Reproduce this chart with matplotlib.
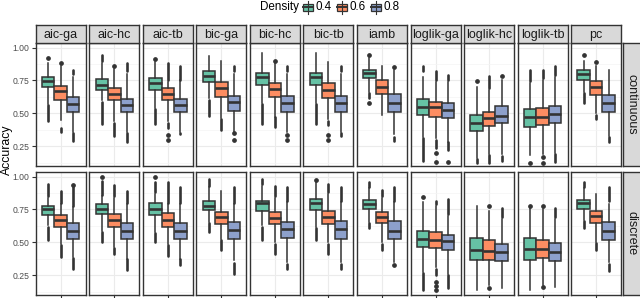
import matplotlib
matplotlib.use("Agg")
import matplotlib.pyplot as plt
from matplotlib.patches import Rectangle

plt.rcParams['font.family'] = ['Liberation Sans', 'DejaVu Sans']

methods = ["aic-ga", "aic-hc", "aic-tb", "bic-ga", "bic-hc", "bic-tb", "iamb",
           "loglik-ga", "loglik-hc", "loglik-tb", "pc"]
densities = ["0.4", "0.6", "0.8"]
rows = ["continuous", "discrete"]
colors = ["#66C2A5", "#FC8D62", "#8DA0CB"]

# five-number summaries per row -> per method -> [0.4, 0.6, 0.8]
whislo = {
    "continuous": [[.57, .45, .36], [.60, .44, .36], [.54, .445, .36], [.616, .463, .36],
                   [.578, .476, .36], [.578, .46, .36], [.66, .49, .34], [.323, .31, .285],
                   [.16, .19, .19], [.18, .19, .20], [.66, .50, .33]],
    "discrete": [[.63, .49, .39], [.59, .465, .376], [.578, .49, .376], [.654, .528, .364],
                 [.63, .50, .35], [.616, .50, .35], [.654, .50, .35], [.275, .313, .263],
                 [.136, .175, .157], [.136, .174, .16], [.667, .50, .35]],
}
q1 = {
    "continuous": [[.70, .605, .51], [.68, .598, .509], [.674, .598, .509], [.735, .623, .52],
                   [.718, .623, .514], [.718, .616, .514], [.766, .646, .509], [.489, .47, .463],
                   [.366, .405, .425], [.40, .41, .425], [.756, .64, .509]],
    "discrete": [[.71, .62, .528], [.712, .62, .528], [.71, .62, .528], [.747, .641, .528],
                 [.737, .641, .533], [.747, .641, .528], [.755, .646, .528], [.465, .46, .444],
                 [.364, .369, .356], [.369, .384, .356], [.755, .646, .52]],
}
med = {
    "continuous": [[.745, .67, .575], [.717, .646, .562], [.73, .646, .567], [.786, .69, .588],
                   [.78, .684, .578], [.776, .68, .578], [.81, .70, .58], [.552, .547, .527],
                   [.43, .463, .48], [.47, .476, .496], [.80, .70, .58]],
    "discrete": [[.755, .672, .583], [.755, .667, .59], [.755, .667, .583], [.78, .692, .596],
                 [.80, .684, .604], [.80, .692, .604], [.793, .692, .59], [.528, .52, .51],
                 [.44, .432, .427], [.447, .447, .427], [.798, .697, .583]],
}
q3 = {
    "continuous": [[.78, .71, .625], [.76, .69, .613], [.766, .69, .613], [.824, .74, .634],
                   [.81, .73, .634], [.81, .73, .634], [.83, .756, .646], [.608, .588, .578],
                   [.489, .514, .557], [.532, .54, .557], [.827, .743, .64]],
    "discrete": [[.78, .71, .646], [.79, .717, .646], [.80, .722, .646], [.818, .73, .654],
                 [.813, .73, .654], [.83, .742, .66], [.823, .73, .66], [.59, .578, .553],
                 [.535, .515, .49], [.535, .52, .495], [.823, .742, .654]],
}
whishi = {
    "continuous": [[.88, .86, .78], [.88, .84, .80], [.89, .74, .75], [.934, .896, .80],
                   [.96, .88, .80], [.96, .89, .80], [.92, .86, .83], [.78, .74, .74],
                   [.70, .68, .756], [.73, .75, .78], [.90, .86, .83]],
    "discrete": [[.84, .79, .77], [.85, .84, .79], [.87, .79, .79], [.92, .894, .79],
                 [.93, .84, .81], [.96, .87, .81], [.91, .84, .81], [.806, .78, .70],
                 [.78, .742, .68], [.76, .75, .68], [.91, .87, .79]],
}
# outlier runs (min, max) below / above the whiskers
low_out = {
    "continuous": [
        [[(.44, .56)], [(.36, .39)], [(.29, .35)]],
        [[(.42, .59)], [(.33, .43)], [(.285, .35)]],
        [[(.42, .53)], [(.39, .43), (.336, .336), (.298, .298)], [(.34, .35)]],
        [[(.48, .60)], [(.374, .455)], [(.35, .35), (.30, .30)]],
        [[(.42, .57)], [(.394, .47)], [(.336, .336), (.298, .298)]],
        [[(.42, .57)], [(.41, .44), (.336, .336), (.298, .298)], [(.33, .35)]],
        [[(.616, .654), (.58, .58)], [], [(.29, .32)]],
        [[(.14, .31)], [(.24, .30), (.196, .196), (.132, .132)], [(.22, .28), (.132, .132)]],
        [[(.12, .15)], [(.12, .18)], [(.14, .175)]],
        [[(.124, .124)], [(.17, .17), (.12, .12)], [(.13, .19)]],
        [[(.577, .654)], [(.46, .49)], [(.285, .32)]],
    ],
    "discrete": [
        [[(.52, .62)], [(.39, .48)], [(.30, .38)]],
        [[(.50, .58)], [(.414, .455)], [(.288, .37)]],
        [[(.50, .57)], [(.394, .477)], [(.326, .37)]],
        [[(.578, .645)], [(.44, .52)], [(.258, .343)]],
        [[(.52, .62)], [(.414, .49)], [(.30, .338)]],
        [[(.52, .61)], [(.414, .49)], [(.30, .338)]],
        [[(.61, .645)], [(.44, .49)], [(.33, .33)]],
        [[(.136, .265)], [(.25, .30), (.20, .20), (.17, .17), (.136, .136)], [(.15, .255)]],
        [[], [(.157, .157)], []],
        [[], [(.16, .16)], []],
        [[(.61, .66)], [(.44, .495)], [(.283, .338)]],
    ],
}
high_out = {
    "continuous": [
        [[(.92, .92)], [(.88, .88)], [(.80, .83)]],
        [[(.90, .94)], [(.857, .857)], [(.82, .88)]],
        [[(.916, .916)], [(.756, .88)], [(.756, .857)]],
        [[], [], [(.82, .857)]],
        [[], [(.90, .90)], [(.82, .857)]],
        [[], [], [(.82, .857)]],
        [[(.94, .94)], [], [(.85, .85)]],
        [[(.82, .857)], [(.756, .82)], [(.756, .79)]],
        [[(.743, .743)], [(.69, .786)], [(.786, .786)]],
        [[(.743, .83)], [(.766, .83)], [(.79, .857)]],
        [[(.94, .94)], [(.89, .89)], []],
    ],
    "discrete": [
        [[(.85, .944)], [(.80, .894)], [(.78, .92), (.937, .937)]],
        [[(.86, .97), (1.0, 1.0)], [(.85, .937)], [(.80, .894)]],
        [[(.88, .957), (1.0, 1.0)], [(.80, .957)], [(.80, .92)]],
        [[(.93, .98)], [], [(.80, .92)]],
        [[(.944, .98)], [(.85, .93)], [(.818, .92)]],
        [[(.975, .975)], [(.88, .944)], [(.818, .92)]],
        [[(.924, .957)], [(.856, .90)], [(.818, .92)]],
        [[(.843, .843)], [(.793, .813)], [(.717, .83)]],
        [[], [(.78, .78)], [(.692, .763)]],
        [[(.78, .78)], [(.78, .78)], [(.692, .763)]],
        [[(.924, .957)], [], [(.818, .92)]],
    ],
}

W, H = 640, 298
fig = plt.figure(figsize=(W / 100, H / 100), dpi=100)


def frac(x, y, w, h):
    return [x / W, 1 - (y + h) / H, w / W, h / H]


DARK = "#333333"
GRID = "#EBEBEB"
panel_left0, panel_step, panel_w = 35.7, 53.55, 50.0
row_top = [43, 172]
panel_h = 123
positions = [0.7, 1.0, 1.3]

for r, row in enumerate(rows):
    for m, meth in enumerate(methods):
        x0 = panel_left0 + m * panel_step
        ax = fig.add_axes(frac(x0, row_top[r], panel_w, panel_h))
        stats = []
        for d in range(3):
            stats.append(dict(whislo=whislo[row][m][d], q1=q1[row][m][d], med=med[row][m][d],
                              q3=q3[row][m][d], whishi=whishi[row][m][d], fliers=[]))
        bp = ax.bxp(stats, positions=positions, widths=0.3, patch_artist=True,
                    showfliers=False, showcaps=False, manage_ticks=False,
                    boxprops=dict(edgecolor=DARK, linewidth=1.1),
                    whiskerprops=dict(color=DARK, linewidth=1.1),
                    medianprops=dict(color=DARK, linewidth=1.9))
        for patch, c in zip(bp["boxes"], colors):
            patch.set_facecolor(c)
        for d in range(3):
            for a, b in low_out[row][m][d] + high_out[row][m][d]:
                if b - a < 0.006:
                    ax.plot([positions[d]], [a], "o", ms=2.4, color=DARK, zorder=3)
                else:
                    ax.plot([positions[d], positions[d]], [a, b], color=DARK, lw=1.9,
                            solid_capstyle="round", zorder=3)
        ax.set_xlim(0.4, 1.6)
        ax.set_ylim(0.1, 1.035)
        ax.set_yticks([0.25, 0.5, 0.75, 1.0])
        ax.set_yticks([0.125, 0.375, 0.625, 0.875], minor=True)
        ax.set_xticks([1.0])
        ax.set_xticklabels([""])
        ax.grid(True, which="major", color=GRID, lw=0.8, zorder=0)
        ax.grid(True, which="minor", axis="y", color="#F4F4F4", lw=0.5, zorder=0)
        ax.set_axisbelow(True)
        for s in ax.spines.values():
            s.set_color(DARK)
            s.set_linewidth(1.0)
        ax.tick_params(axis="both", which="both", length=0)
        ax.tick_params(axis="both", which="major", color=DARK, width=0.8)
        if m == 0:
            ax.tick_params(axis="y", which="major", length=3, labelsize=6.2,
                           labelcolor="#4D4D4D", pad=1.5)
        else:
            ax.set_yticklabels([])
        if r == 1:
            ax.tick_params(axis="x", which="major", length=3)
        # top strips
        if r == 0:
            sax = fig.add_axes(frac(x0, 25, panel_w, 18))
            sax.set_xticks([]); sax.set_yticks([])
            sax.set_facecolor("#D9D9D9")
            for s in sax.spines.values():
                s.set_color(DARK); s.set_linewidth(1.0)
            sax.text(0.5, 0.45, meth, ha="center", va="center", fontsize=9.0,
                     color="#1A1A1A", transform=sax.transAxes, clip_on=True)
    # right strips
    rax = fig.add_axes(frac(623, row_top[r], 20, panel_h))
    rax.set_xticks([]); rax.set_yticks([])
    rax.set_facecolor("#D9D9D9")
    for s in rax.spines.values():
        s.set_color(DARK); s.set_linewidth(1.0)
    rax.text(0.42, 0.5, row, ha="center", va="center", rotation=270, fontsize=9.0,
             color="#1A1A1A", transform=rax.transAxes)

fig.text(6.5 / W, 1 - 150 / H, "Accuracy", rotation=90, ha="center", va="center",
         fontsize=8.8, color="#000000")

# legend
lax = fig.add_axes([0, 0, 1, 1], facecolor="none")
lax.set_xlim(0, W); lax.set_ylim(H, 0); lax.axis("off")
lax.text(260, 7, "Density", ha="left", va="center", fontsize=8.4)
key_x = [303, 337, 371]
for kx, c, lab in zip(key_x, colors, densities):
    lax.plot([kx + 5, kx + 5], [0.5, 13.5], color=DARK, lw=0.8)
    lax.add_patch(Rectangle((kx, 3.5), 10, 7, facecolor=c, edgecolor=DARK, lw=0.9))
    lax.plot([kx, kx + 10], [7, 7], color=DARK, lw=1.4)
    lax.text(kx + 13, 7.5, lab, ha="left", va="center", fontsize=8.4)

fig.savefig("out.png", dpi=100)
